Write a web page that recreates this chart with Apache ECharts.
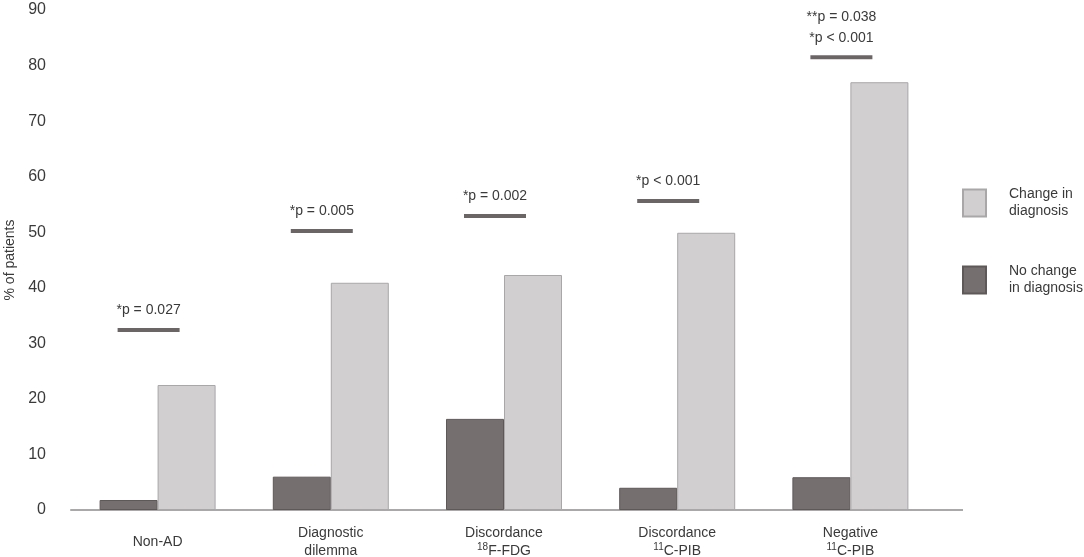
<!DOCTYPE html>
<html>
<head>
<meta charset="utf-8">
<script src="https://cdn.jsdelivr.net/npm/echarts@6/dist/echarts.min.js"></script>
<style>
  html, body { margin: 0; padding: 0; background: #fff; }
  #main { width: 1084px; height: 557px; }
</style>
</head>
<body>
<div id="main"></div>
<script>
// categories (rich text tags for the isotope superscripts)
var categories = ['Non-AD', 'Diagnostic\ndilemma', 'Discordance\n{sup|18}F-FDG', 'Discordance\n{sup|11}C-PIB', 'Negative\n{sup|11}C-PIB']
// % of patients
var noChange = [1.8, 6, 16.4, 4, 5.9]
var change = [22.5, 40.9, 42.3, 49.9, 77]
// significance bars and their labels
var sigLevel = [32.4, 50.2, 52.9, 55.6, 81.5]
var sigText = ['*p = 0.027', '*p = 0.005', '*p = 0.002', '*p < 0.001', '**p = 0.038\n*p < 0.001']

var textColor = '#3a3a3a'
var myChart = echarts.init(document.getElementById('main'))

var sigData = []
for (var i = 0; i < categories.length; i++) {
  sigData.push({ value: [i, sigLevel[i]], label: { formatter: sigText[i] } })
}

myChart.setOption({
  animation: false,
  textStyle: { fontFamily: 'Liberation Sans, Arial, sans-serif' },
  grid: { left: 71, right: 147, top: 10, bottom: 47, containLabel: false, outerBoundsMode: 'none' },
  legend: {
    orient: 'vertical',
    left: 957,
    top: 181,
    icon: 'rect',
    itemWidth: 23,
    itemHeight: 27,
    itemGap: 43,
    data: ['Change in diagnosis', 'No change in diagnosis'],
    formatter: function (name) {
      return name == 'Change in diagnosis' ? 'Change in\ndiagnosis' : 'No change\nin diagnosis'
    },
    textStyle: { color: textColor, fontSize: 14, lineHeight: 17, padding: [0, 0, 0, 18] },
    selectedMode: false
  },
  xAxis: {
    type: 'category',
    data: categories,
    axisLine: { lineStyle: { color: '#aaa8a9', width: 2 } },
    axisTick: { show: false },
    axisLabel: {
      color: textColor,
      fontSize: 14,
      lineHeight: 18,
      margin: 32,
      verticalAlign: 'middle',
      interval: 0,
      rich: {
        sup: { fontSize: 10, lineHeight: 12, verticalAlign: 'top', color: textColor }
      }
    }
  },
  yAxis: {
    type: 'value',
    min: 0,
    max: 90,
    interval: 10,
    name: '% of patients',
    nameLocation: 'middle',
    nameGap: 52,
    nameTextStyle: { color: textColor, fontSize: 14 },
    axisLine: { show: false },
    axisTick: { show: false },
    splitLine: { show: false },
    axisLabel: { color: textColor, fontSize: 16, margin: 25 }
  },
  series: [
    {
      name: 'No change in diagnosis',
      type: 'bar',
      data: noChange,
      barWidth: 58,
      barGap: '0%',
      itemStyle: { color: '#766f70', borderColor: '#5e5859', borderWidth: 1 }
    },
    {
      name: 'Change in diagnosis',
      type: 'bar',
      data: change,
      barWidth: 58,
      itemStyle: { color: '#d1cfd0', borderColor: '#a9a7a8', borderWidth: 1 }
    },
    {
      name: 'sig',
      type: 'scatter',
      data: sigData,
      symbol: 'rect',
      symbolSize: [62, 4],
      symbolOffset: [-9, 0],
      itemStyle: { color: '#6b6566', opacity: 1 },
      label: {
        show: true,
        position: 'top',
        distance: 7,
        color: textColor,
        fontSize: 14,
        lineHeight: 21
      },
      emphasis: { disabled: true },
      z: 5
    }
  ],
  graphic: [{
    // the baseline runs on a little past the last category
    type: 'line',
    shape: { x1: 937, y1: 510, x2: 963, y2: 510 },
    style: { stroke: '#aaa8a9', lineWidth: 2 }
  }]
})
</script>
</body>
</html>
